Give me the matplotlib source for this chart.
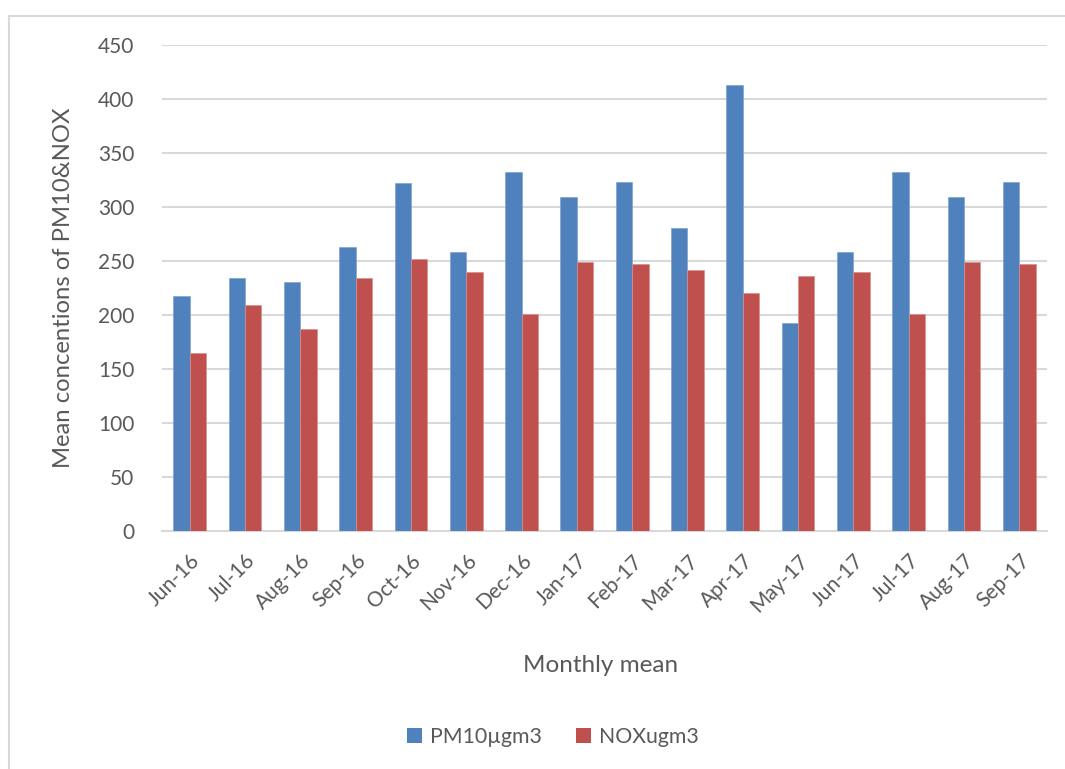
import matplotlib
matplotlib.use("Agg")
import matplotlib.pyplot as plt
from matplotlib.lines import Line2D
from matplotlib.patches import Patch
import numpy as np

months = ["Jun-16", "Jul-16", "Aug-16", "Sep-16", "Oct-16", "Nov-16", "Dec-16", "Jan-17",
          "Feb-17", "Mar-17", "Apr-17", "May-17", "Jun-17", "Jul-17", "Aug-17", "Sep-17"]
pm10 = [218, 234, 231, 263, 322, 258, 332, 309, 323, 281, 413, 193, 258, 332, 309, 323]
nox = [165, 209, 187, 234, 252, 240, 201, 249, 247, 242, 220, 236, 240, 201, 249, 247]
yticks = [0, 50, 100, 150, 200, 250, 300, 350, 400, 450]

series_names = ["PM10µgm3", "NOXugm3"]
blue = "#4F81BD"
red = "#C0504D"
txt = "#595959"
grid = "#D9D9D9"

plt.rcParams['font.family'] = ['Lato', 'DejaVu Sans']

fig = plt.figure(figsize=(10.65, 7.69), dpi=100)
ax = fig.add_axes([162/1065, 1-531/769, (1047-162)/1065, (531-45)/769])

x = np.arange(len(months))
w = 0.296
ax.bar(x - w/2, pm10, width=w, color=blue, edgecolor="#7FA3D1", linewidth=0.5, zorder=3)
ax.bar(x + w/2, nox, width=w, color=red, edgecolor="#D9908E", linewidth=0.5, zorder=3)

ax.set_xlim(-0.5, len(months) - 0.5)
ax.set_ylim(0, 450)
ax.set_yticks(yticks)
ax.set_yticklabels([str(v) for v in yticks], fontsize=15, color=txt)
ax.yaxis.grid(True, color=grid, linewidth=1.5, zorder=0)
ax.set_axisbelow(True)
for s in ["top", "right", "left"]:
    ax.spines[s].set_visible(False)
ax.spines["bottom"].set_color(grid)
ax.spines["bottom"].set_linewidth(1.5)
ax.tick_params(axis="both", length=0)
ax.tick_params(axis="y", pad=20)

ax.set_xticks(x)
ax.set_xticklabels(months, rotation=45, ha="right", rotation_mode="anchor",
                   fontsize=15, color=txt)
ax.tick_params(axis="x", pad=14)

ax.set_ylabel("Mean concentions of PM10&NOX", fontsize=17.2, color=txt, labelpad=17)
fig.text(601/1065, 1-665/769, "Monthly mean", ha="center", va="center", fontsize=17.5, color=txt)

handles = [Patch(facecolor=blue), Patch(facecolor=red)]
fig.legend(handles, series_names, loc="center", bbox_to_anchor=(553/1065, 1-737/769),
           ncol=2, frameon=False, fontsize=15.3, labelcolor=txt,
           handlelength=0.7, handleheight=0.7, handletextpad=0.4, columnspacing=1.6)

fig.add_artist(Line2D([9/1065, 1.0], [1-16/769, 1-16/769], transform=fig.transFigure,
                      color=grid, linewidth=1.5))
fig.add_artist(Line2D([9/1065, 9/1065], [0.0, 1-16/769], transform=fig.transFigure,
                      color=grid, linewidth=1.5))

fig.savefig("out.png", dpi=100, facecolor="white")
